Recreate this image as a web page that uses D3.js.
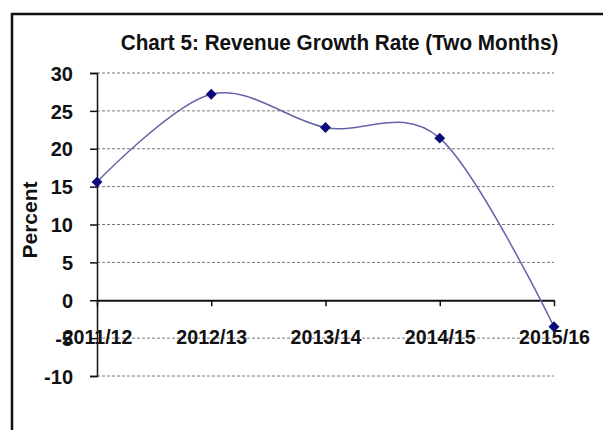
<!DOCTYPE html>
<html><head><meta charset="utf-8">
<script src="https://cdn.jsdelivr.net/npm/d3@7"></script>
<style>
html,body{margin:0;padding:0;background:#fff;}
svg{display:block;font-family:"Liberation Sans",Arial,sans-serif;}
</style></head>
<body>
<svg id="chart" width="603" height="430"></svg>
<script>
const categories = ["2011/12","2012/13","2013/14","2014/15","2015/16"];
const values = [15.6, 27.2, 22.8, 21.4, -3.5];
const yTicks = [-10,-5,0,5,10,15,20,25,30];
const titleText = "Chart 5: Revenue Growth Rate (Two Months)";
const yTitle = "Percent";

const svg = d3.select("#chart");
// frame (clipped at right/bottom)
svg.append("path").attr("d","M12,440 V14 H620").attr("fill","none").attr("stroke","#111").attr("stroke-width",2.5);

const x = d3.scalePoint().domain(categories).range([97,554]);
const y = d3.scaleLinear().domain([-10,30]).range([376,73]);

// gridlines
svg.append("g").selectAll("line").data(yTicks.filter(d=>d!==0)).join("line")
  .attr("x1",97).attr("x2",554).attr("y1",d=>y(d)).attr("y2",d=>y(d))
  .attr("stroke","#777").attr("stroke-width",1).attr("stroke-dasharray","3,2");

// y axis
const yAxis = d3.axisLeft(y).tickValues(yTicks).tickSize(7).tickPadding(17).tickFormat(d => String(d));
const gy = svg.append("g").attr("transform","translate(97,0)").call(yAxis);
gy.select(".domain").attr("stroke","#111").attr("stroke-width",1.5);
gy.selectAll(".tick line").attr("stroke","#111").attr("stroke-width",1.5);
gy.selectAll("text").attr("font-size",20).attr("font-weight","bold").attr("fill","#111")
  .attr("font-family","Liberation Sans, Arial, sans-serif").attr("dy","0.36em");

// x axis at zero
const xAxis = d3.axisBottom(x).tickSize(6).tickSizeOuter(0).tickPadding(24);
const gx = svg.append("g").attr("transform",`translate(0,${y(0)})`).call(xAxis);
gx.select(".domain").attr("stroke","#111").attr("stroke-width",2);
gx.selectAll(".tick line").attr("stroke","#111").attr("stroke-width",1.5);
gx.selectAll("text").attr("font-size",19.6).attr("font-weight","bold").attr("fill","#111").attr("font-family","Liberation Sans, Arial, sans-serif");

// line
const line = d3.line().x((d,i)=>x(categories[i])).y(d=>y(d)).curve(d3.curveCardinal.tension(0));
svg.append("path").datum(values).attr("d",line).attr("fill","none").attr("stroke","#6464a8").attr("stroke-width",1.5);

// markers
svg.append("g").selectAll("path").data(values).join("path")
  .attr("d",d3.symbol(d3.symbolDiamond2,75))
  .attr("transform",(d,i)=>`translate(${x(categories[i])},${y(d)})`)
  .attr("fill","#0a0a78");

// title
svg.append("text").attr("transform","translate(339.5,50) scale(1,1.1)").attr("text-anchor","middle")
  .attr("font-size",20.7).attr("font-weight","bold").attr("fill","#111").text(titleText);

// y title
svg.append("text").attr("transform","translate(37,220) rotate(-90)").attr("text-anchor","middle")
  .attr("font-size",21).attr("font-weight","bold").attr("fill","#111").text(yTitle);
</script>
</body></html>
